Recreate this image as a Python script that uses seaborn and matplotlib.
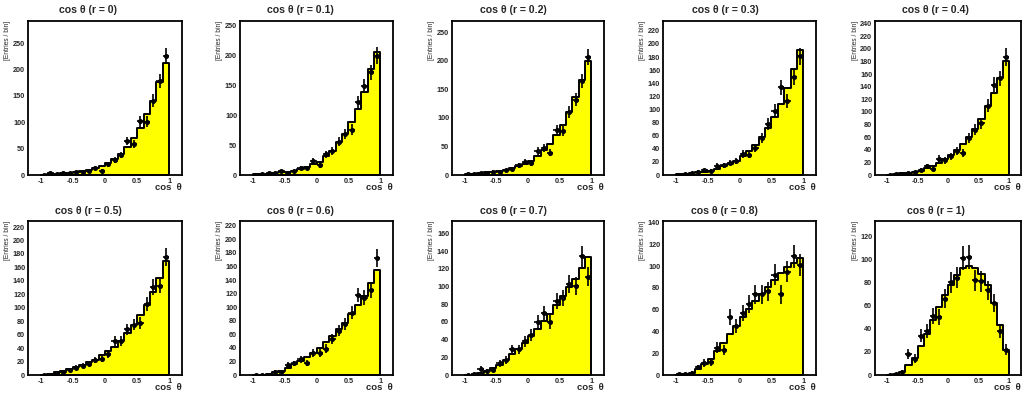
import numpy as np
import pandas as pd
import matplotlib
matplotlib.use("Agg")
import matplotlib.pyplot as plt
from matplotlib.ticker import MultipleLocator, AutoMinorLocator, FuncFormatter
import seaborn as sns

sns.set_style("white")
plt.rcParams['font.family'] = ['Liberation Sans', 'DejaVu Sans']

r_labels = ["0", "0.1", "0.2", "0.3", "0.4", "0.5", "0.6", "0.7", "0.8", "1"]
bin_edges = np.linspace(-1.0, 1.0, 21)
bin_centers = 0.5 * (bin_edges[:-1] + bin_edges[1:])

# model histogram contents (bins from -1 to 1, width 0.1)
model_r00 = [0.5, 1, 2, 3, 4, 5, 7, 9, 13, 17, 23, 30, 40, 53, 70, 89, 115, 141, 177, 213]
model_r01 = [1, 1.5, 2.5, 3.5, 4.5, 5.6, 7, 10, 13, 18.5, 22, 31, 41, 55, 69, 89, 111, 139, 177, 206]
model_r02 = [1.5, 2.5, 3.5, 5, 6, 7.5, 9, 12, 16, 19, 25, 34, 43, 55, 70, 88, 110, 136, 167, 199]
model_r03 = [1, 2, 3, 4, 5, 6.6, 9, 13, 17, 22, 28.6, 36, 46, 58, 72, 89, 109, 133, 161, 191]
model_r04 = [0.5, 1.5, 2.5, 3.5, 5, 7, 10.6, 15, 19, 25, 32, 40, 49, 60, 73, 89, 110, 130, 154, 181]
model_r05 = [0.5, 1, 4, 6, 8.5, 11.5, 15, 19, 23, 29, 35, 42, 51, 62, 75, 89, 104.5, 123, 144, 169]
model_r06 = [0, 0, 2, 4, 6, 10, 16, 21, 27, 33, 40, 48, 57, 67.6, 77, 90, 103.6, 116, 135, 155]
model_r07 = [0, 0.5, 2, 5, 7.6, 11.4, 17, 23.5, 29.6, 36, 43.6, 52, 60.7, 69, 79, 89, 99, 109, 120.5, 133]
model_r08 = [0, 0.5, 1.5, 5.5, 10, 15, 22, 29, 37.5, 45, 53, 60.6, 67.7, 74, 80.6, 87.7, 94, 99, 103, 107.7]
model_r10 = [0, 0.5, 2.9, 8.7, 15, 25, 35, 47.7, 59, 69.4, 78, 86, 92, 94, 92.5, 87, 77.5, 62, 43.4, 21.7]

# observed data points per bin
data_r00 = [0, 3, 2, 3, 4, 5, 5, 7, 13, 8, 20, 28, 38, 64, 58, 102, 101, 141, 178, 225]
data_r01 = [0, 1, 3, 3, 6, 4, 6, 12, 11, 24, 16, 35, 40, 56, 68, 76, 122, 149, 172, 200]
data_r02 = [1, 2, 4, 4, 6, 5, 8, 10, 17, 23, 21, 42, 48, 39, 79, 77, 110, 132, 165, 207]
data_r03 = [0, 2, 3, 5, 7, 6, 14, 15, 19, 22, 32, 31, 41, 56, 78, 98, 134, 113, 150, 181]
data_r04 = [0, 2, 1, 3, 4, 8, 14, 10, 26, 23, 30, 38, 35, 59, 72, 82, 110, 143, 153, 187]
data_r05 = [0, 0, 3, 5, 7, 11, 14, 17, 22, 24, 31, 51, 51, 68, 75, 77, 106, 131, 133, 176]
data_r06 = [0, 0, 0, 5, 5, 15, 17, 23, 18, 32, 32, 39, 53, 65, 75, 92, 118, 114, 125, 173]
data_r07 = [0, 1, 7, 5, 6, 13, 17, 29, 29, 38, 45, 60, 70, 60, 84, 87, 103, 101, 134, 111]
data_r08 = [1, 1, 2, 7, 11, 12, 25, 23, 53, 45, 57, 65, 74, 74, 77, 92, 74, 95, 109, 101]
data_r10 = [0, 1, 3, 18, 14, 34, 38, 51, 50, 66, 80, 84, 101, 102, 82, 81, 73, 62, 38, 22]

models = [model_r00, model_r01, model_r02, model_r03, model_r04,
          model_r05, model_r06, model_r07, model_r08, model_r10]
datas = [data_r00, data_r01, data_r02, data_r03, data_r04,
         data_r05, data_r06, data_r07, data_r08, data_r10]

y_max = [292, 258, 270, 235, 244, 229, 227, 174, 141.5, 133]
y_major = [50, 50, 50, 20, 20, 20, 20, 20, 20, 20]

W, H = 1032, 396
col_lr = [(28, 182), (240, 393), (452, 604), (663, 816), (875, 1021)]
row_tb = [(21, 175), (221, 375)]
title_x = [88, 300, 513, 725, 935, 88, 300, 513, 724, 936]
title_y = [10, 211]

fig = plt.figure(figsize=(W / 100, H / 100), dpi=100)

def fmt_x(v, pos):
    if abs(v) < 1e-9:
        return "0"
    return "%g" % v

for i in range(10):
    row, col = divmod(i, 5)
    l, r = col_lr[col]
    t, b = row_tb[row]
    ax = fig.add_axes([l / W, (H - b) / H, (r - l) / W, (b - t) / H])

    df = pd.DataFrame({"cos": bin_centers, "w": np.asarray(models[i], dtype=float)})
    sns.histplot(data=df, x="cos", weights="w", binwidth=0.1, binrange=(-1.0, 1.0),
                 element="step", fill=True, facecolor="#ffff00", edgecolor="black",
                 linewidth=1.4, alpha=1, ax=ax)
    d = np.array(datas[i], dtype=float)
    ax.errorbar(bin_centers, d, yerr=np.sqrt(d), xerr=0.05, fmt="o", ms=2.6,
                color="black", ecolor="black", elinewidth=1.2, capsize=0, zorder=5)

    ax.set_xlim(-1.2, 1.2)
    ax.set_ylim(0, y_max[i])
    ax.xaxis.set_major_locator(MultipleLocator(0.5))
    ax.xaxis.set_minor_locator(MultipleLocator(0.1))
    ax.xaxis.set_major_formatter(FuncFormatter(fmt_x))
    ax.yaxis.set_major_locator(MultipleLocator(y_major[i]))
    ax.yaxis.set_minor_locator(AutoMinorLocator(5))
    ax.tick_params(which="both", direction="in", top=False, right=False,
                   labelsize=5.2, pad=2, width=0.8, color="black")
    ax.tick_params(which="major", length=4)
    ax.tick_params(which="minor", length=2)
    for lab in ax.get_xticklabels() + ax.get_yticklabels():
        lab.set_fontweight("bold")
    for sp in ax.spines.values():
        sp.set_visible(True)
        sp.set_color("black")
        sp.set_linewidth(1.3)
    ax.set_xlabel("")
    ax.set_ylabel("")
    ax.text(1.0, -0.055, "cos  \u03b8", transform=ax.transAxes, ha="right", va="top",
            fontsize=6.8, fontweight="bold")
    ax.text(-0.135, 1.0, "[Entries / bin]", transform=ax.transAxes, ha="center", va="top",
            rotation=90, fontsize=4.8)
    fig.text(title_x[i] / W, 1 - title_y[row] / H, "cos \u03b8 (r = %s)" % r_labels[i],
             ha="center", va="center", fontsize=7.6, fontweight="bold")

fig.savefig("out.png", dpi=100)
